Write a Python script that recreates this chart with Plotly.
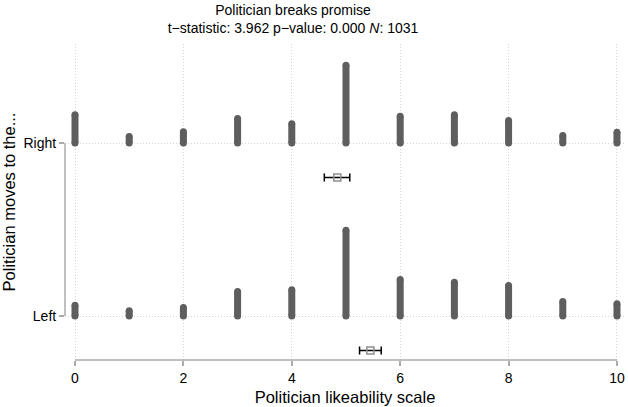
import plotly.graph_objects as go

# ---- data ----
scale_values = [0, 1, 2, 3, 4, 5, 6, 7, 8, 9, 10]
group_labels = ["Left", "Right"]
group_pos = [0, 1]
counts_right = [53, 12, 21, 46, 36, 145, 50, 53, 42, 14, 20]
counts_left = [20, 10, 16, 46, 49, 160, 68, 63, 57, 27, 23]
mean_right, ci_right = 4.84, (4.60, 5.07)
mean_left, ci_left = 5.45, (5.25, 5.65)
x_ticks = [0, 2, 4, 6, 8, 10]

title_line1 = "Politician breaks promise"
title_line2 = "t\u2212statistic: 3.962 p\u2212value: 0.000 <i>N</i>: 1031"
x_title = "Politician likeability scale"
y_title = "Politician moves to the..."

# ---- style ----
FONT = "Liberation Sans, Arial, Helvetica, sans-serif"
BAR_COLOR = "#5e5e5e"
BAR_K = 0.003095      # height (axis units) per count
MEAN_OFFSET = -0.2    # where the mean marker sits below each group line
AXIS_COLOR = "#ababab"
GRID_COLOR = "#d4d4d4"

fig = go.Figure()

for base, counts in [(1, counts_right), (0, counts_left)]:
    xs, ys = [], []
    for x, c in zip(scale_values, counts):
        xs += [x, x, None]
        ys += [base, base + c * BAR_K, None]
    fig.add_trace(go.Scatter(
        x=xs, y=ys, mode="lines+markers",
        line=dict(color=BAR_COLOR, width=7),
        marker=dict(color=BAR_COLOR, size=7, line=dict(width=0)),
        showlegend=False, hoverinfo="skip"))

for base, m, ci in [(1, mean_right, ci_right), (0, mean_left, ci_left)]:
    fig.add_trace(go.Scatter(
        x=[m], y=[base + MEAN_OFFSET], mode="markers",
        marker=dict(symbol="square-open", size=7, color="#8e8e8e",
                    line=dict(width=1.5, color="#8e8e8e")),
        error_x=dict(type="data", symmetric=False,
                     array=[ci[1] - m], arrayminus=[m - ci[0]],
                     color="black", thickness=1.5, width=4),
        showlegend=False))

# axis lines spanning only the ticks (Stata style)
fig.add_shape(type="line", xref="x", yref="paper", x0=0, x1=10, y0=0, y1=0,
              line=dict(color=AXIS_COLOR, width=1.5))
fig.add_shape(type="line", xref="paper", yref="y", x0=0, x1=0, y0=0, y1=1,
              line=dict(color=AXIS_COLOR, width=1.5))

fig.update_layout(
    width=628, height=407,
    margin=dict(l=65, r=3, t=44, b=47),
    plot_bgcolor="white", paper_bgcolor="white",
    font=dict(family=FONT, size=14, color="black"),
    title=dict(text=title_line1 + "<br>" + title_line2,
               x=293 / 628, xanchor="center", xref="container",
               y=1 - 15 / 407, yref="container", yanchor="middle",
               font=dict(size=14, family=FONT, color="black")),
    xaxis=dict(range=[-0.1845, 10.148], tickvals=x_ticks,
               showgrid=True, gridcolor=GRID_COLOR, griddash="1px,2px", gridwidth=1,
               zeroline=False, showline=False,
               ticks="outside", ticklen=5, tickcolor=AXIS_COLOR, tickwidth=1.5,
               tickfont=dict(size=14),
               title=dict(text=x_title, font=dict(size=16.5), standoff=6)),
    yaxis=dict(range=[-0.2543, 1.5723], tickvals=group_pos, ticktext=group_labels,
               showgrid=True, gridcolor=GRID_COLOR, griddash="1px,2px", gridwidth=1,
               zeroline=False, showline=False,
               ticks="outside", ticklen=5, tickcolor=AXIS_COLOR, tickwidth=1.5,
               tickfont=dict(size=14),
               title=dict(text=y_title, font=dict(size=16.5), standoff=8)),
)

fig.write_html("out.html")
